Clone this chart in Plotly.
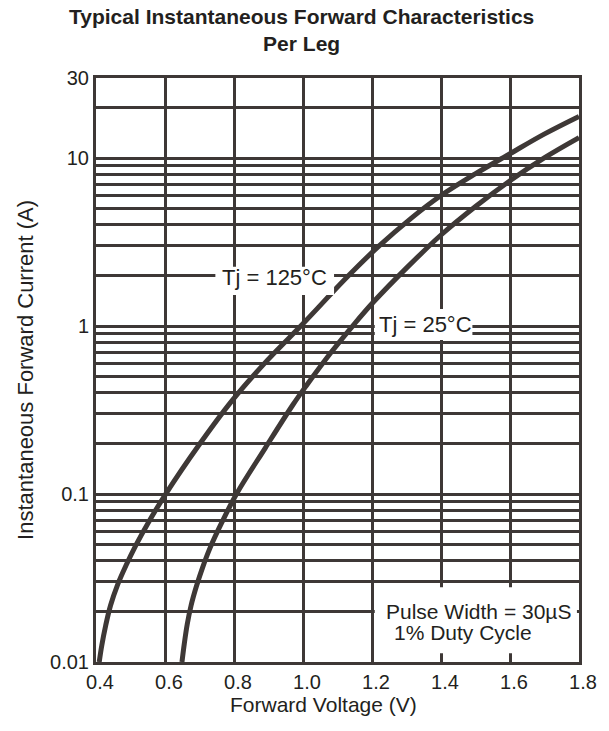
import math
import plotly.graph_objects as go

# ---- data (V, A) ----
v_125 = [0.4093, 0.4168, 0.4281, 0.4421, 0.4617, 0.4869, 0.5150, 0.5515, 0.6019,
         0.7000, 0.7944, 0.8964, 1.0005, 1.1265, 1.2190, 1.3132, 1.4000, 1.4979,
         1.6000, 1.7004, 1.8000]
i_125 = [0.0100, 0.01257, 0.01651, 0.02171, 0.02853, 0.03751, 0.04932, 0.06754, 0.100,
         0.1980, 0.3602, 0.6252, 1.036, 1.946, 2.981, 4.381, 5.988, 8.025,
         10.63, 13.95, 17.72]

v_25 = [0.6492, 0.6561, 0.6644, 0.6756, 0.6908, 0.7089, 0.7297, 0.7658, 0.8071,
        0.8905, 0.9708, 1.0095, 1.0822, 1.1456, 1.2048, 1.3018, 1.4000, 1.5009,
        1.6000, 1.7004, 1.8000]
i_25 = [0.0100, 0.01291, 0.01674, 0.02171, 0.02815, 0.03650, 0.04733, 0.06847, 0.100,
        0.1879, 0.3402, 0.4413, 0.7003, 1.011, 1.395, 2.236, 3.486, 5.168,
        7.338, 10.07, 13.25]

x_tick_values = [0.4, 0.6, 0.8, 1.0, 1.2, 1.4, 1.6, 1.8]
x_tick_labels = ["0.4", "0.6", "0.8", "1.0", "1.2", "1.4", "1.6", "1.8"]

y_grid_values = [0.01, 0.02, 0.03, 0.04, 0.05, 0.06, 0.07, 0.08, 0.09,
                 0.1, 0.2, 0.3, 0.4, 0.5, 0.6, 0.7, 0.8, 0.9,
                 1, 2, 3, 4, 5, 6, 7, 8, 9,
                 10, 20, 30]
y_label_values = [0.01, 0.1, 1, 10, 30]
y_label_texts = ["0.01", "0.1", "1", "10", "30"]

series_labels = ["Tj = 125°C", "Tj = 25°C"]
note_lines = ["Pulse Width = 30µS", "1% Duty Cycle"]
title_text = "Typical Instantaneous Forward Characteristics<br>Per Leg"
x_title = "Forward Voltage (V)"
y_title = "Instantaneous Forward Current (A)"

# ---- styling ----
LINE = "#3e3836"
TEXT = "#231f20"
FONT = "Liberation Sans, Arial, sans-serif"

y_ticktext = []
for v in y_grid_values:
    lab = ""
    for lv, lt in zip(y_label_values, y_label_texts):
        if abs(v - lv) < 1e-9:
            lab = lt
    y_ticktext.append(lab)

fig = go.Figure()
for vx, iy, nm in [(v_125, i_125, series_labels[0]), (v_25, i_25, series_labels[1])]:
    fig.add_trace(go.Scatter(x=vx, y=iy, mode="lines", name=nm,
                             line=dict(color=LINE, width=5, shape="spline", smoothing=1.0),
                             hoverinfo="skip"))

# white boxes behind labels (cover the grid); y in data units
boxes = [
    (0.746, 1.090, 1.534, 2.252),      # Tj = 125
    (1.208, 1.491, 0.827, 1.265),      # Tj = 25
    (1.208, 1.794, 0.01127, 0.02789),  # pulse note
]
for x0, x1, y0, y1 in boxes:
    fig.add_shape(type="rect", xref="x", yref="y", x0=x0, x1=x1, y0=y0, y1=y1,
                  fillcolor="white", line=dict(width=0), layer="above")

ann_font = dict(family=FONT, size=22, color=TEXT)
# annotation y on a log axis is given as log10 of the value
fig.add_annotation(x=0.918, y=0.287, xref="x", yref="y", text=series_labels[0],
                   showarrow=False, font=ann_font)
fig.add_annotation(x=1.355, y=0.007, xref="x", yref="y", text=series_labels[1],
                   showarrow=False, font=ann_font)
fig.add_annotation(x=1.508, y=-1.700, xref="x", yref="y", text=note_lines[0],
                   showarrow=False, font=dict(family=FONT, size=21, color=TEXT))
fig.add_annotation(x=1.4636, y=-1.826, xref="x", yref="y", text=note_lines[1],
                   showarrow=False, font=dict(family=FONT, size=21, color=TEXT))

# titles
fig.add_annotation(x=(304.5 - 96) / 489, y=1 + (78 - 3) / 584, xref="paper", yref="paper",
                   xanchor="center", yanchor="top", text=title_text, showarrow=False,
                   font=dict(family=FONT, size=21, color=TEXT, weight="bold"))
fig.add_annotation(x=(326 - 96) / 489, y=-(704 - 662) / 584, xref="paper", yref="paper",
                   xanchor="center", yanchor="middle", text=x_title, showarrow=False,
                   font=dict(family=FONT, size=21, color=TEXT))
fig.add_annotation(x=(24 - 96) / 489, y=0.5, xref="paper", yref="paper",
                   xanchor="center", yanchor="middle", text=y_title, showarrow=False,
                   textangle=-90, font=dict(family=FONT, size=22, color=TEXT))

fig.update_layout(
    width=609, height=731,
    margin=dict(l=96, r=24, t=78, b=69),
    paper_bgcolor="white", plot_bgcolor="white",
    showlegend=False,
    font=dict(family=FONT, color=TEXT, size=20),
)
fig.update_xaxes(
    range=[0.4, 1.8], tickmode="array", tickvals=x_tick_values, ticktext=x_tick_labels,
    showgrid=True, gridcolor=LINE, gridwidth=2.6, zeroline=False,
    showline=True, linecolor=LINE, linewidth=3, mirror=True,
    ticks="", ticklabelshift=4, tickfont=dict(family=FONT, size=20, color=TEXT),
)
fig.update_yaxes(
    type="log", range=[math.log10(0.01), math.log10(30)], tickmode="array",
    tickvals=y_grid_values, ticktext=y_ticktext,
    showgrid=True, gridcolor=LINE, gridwidth=2.6, zeroline=False,
    showline=True, linecolor=LINE, linewidth=3, mirror=True,
    ticks="", tickfont=dict(family=FONT, size=20, color=TEXT),
)

fig.write_html("out.html")
